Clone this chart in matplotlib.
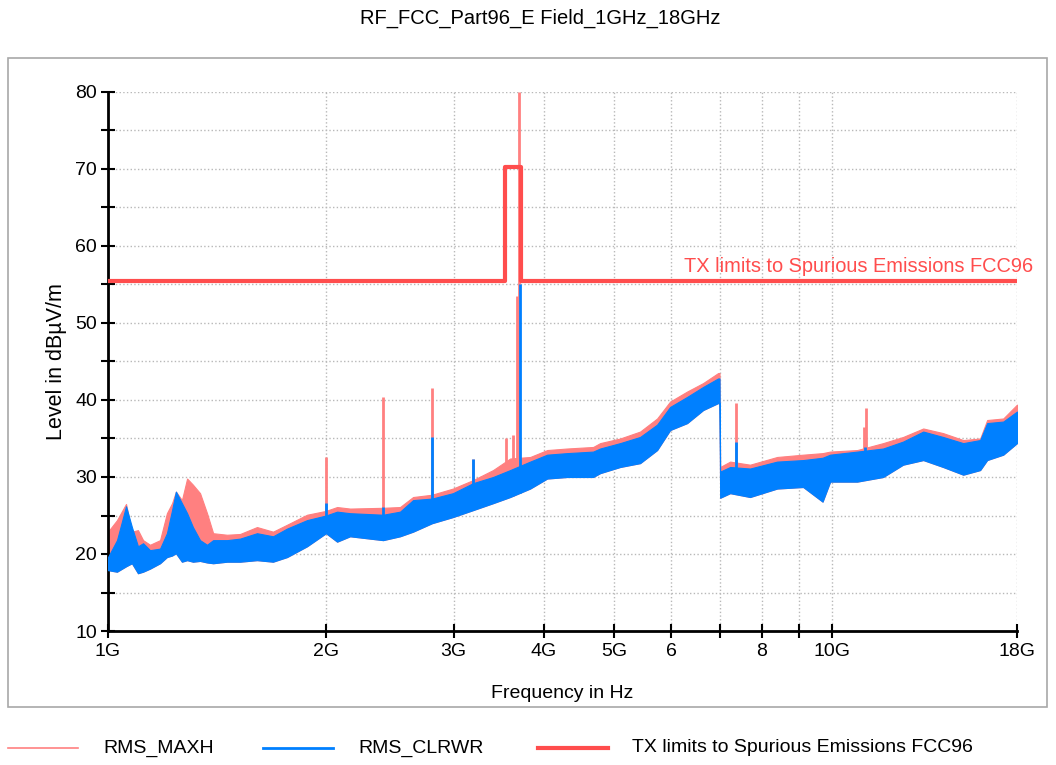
import numpy as np
import matplotlib
matplotlib.use("Agg")
import matplotlib.pyplot as plt
from matplotlib.lines import Line2D
from matplotlib.patches import Rectangle

plt.rcParams['font.family'] = ['Liberation Sans', 'DejaVu Sans']

# frequency grid of the envelope readings, in GHz
freq = [1.000, 1.029, 1.059, 1.079, 1.100, 1.118, 1.143, 1.180, 1.206, 1.226,
        1.241, 1.265, 1.286, 1.310, 1.340, 1.370, 1.397, 1.460, 1.522, 1.606,
        1.690, 1.767, 1.883, 2.000, 2.072, 2.159, 2.398, 2.531, 2.638, 2.802,
        2.995, 3.193, 3.402, 3.592, 3.828, 4.041, 4.305, 4.677, 4.782, 5.096,
        5.430, 5.732, 5.974, 6.306, 6.636, 6.959, 6.990, 7.004, 7.230, 7.703,
        8.395, 9.120, 9.700, 9.937, 10.83, 11.76, 12.53, 13.36, 14.23, 15.17,
        16.01, 16.37, 17.23, 18.00]

# RMS_MAXH upper envelope (dBuV/m)
maxh_top = [22.9, 24.4, 26.5, 22.9, 23.1, 21.8, 21.2, 21.8, 25.3, 26.6,
            28.1, 27.0, 29.8, 29.0, 27.9, 25.3, 22.7, 22.5, 22.6, 23.5,
            22.9, 23.8, 25.1, 25.6, 26.1, 25.9, 26.0, 26.1, 27.4, 27.7,
            28.5, 29.6, 30.9, 32.4, 32.6, 33.5, 33.7, 33.9, 34.4, 35.0,
            35.9, 37.6, 39.8, 41.1, 42.2, 43.5, 43.5, 31.3, 32.0, 31.6,
            32.6, 32.9, 33.1, 33.3, 33.5, 34.4, 35.2, 36.3, 35.7, 34.8,
            35.0, 37.4, 37.6, 39.4]

# RMS_CLRWR upper and lower envelopes (dBuV/m)
clrwr_top = [19.6, 21.8, 26.2, 23.5, 21.0, 21.4, 20.5, 20.7, 22.7, 25.7,
             28.1, 26.6, 25.3, 23.5, 21.8, 21.2, 21.8, 21.8, 22.0, 22.7,
             22.3, 23.3, 24.4, 25.0, 25.5, 25.3, 25.1, 25.5, 27.0, 27.2,
             27.9, 29.2, 30.0, 30.9, 32.0, 32.9, 33.1, 33.3, 33.7, 34.4,
             35.2, 36.8, 39.1, 40.4, 41.7, 42.8, 42.8, 30.7, 31.3, 31.1,
             32.0, 32.2, 32.5, 32.9, 33.3, 33.7, 34.6, 35.9, 35.2, 34.4,
             34.8, 37.0, 37.2, 38.5]
clrwr_low = [17.9, 17.7, 18.4, 18.8, 17.5, 17.7, 18.1, 18.8, 19.6, 19.8,
             20.1, 19.0, 19.2, 19.0, 19.1, 18.9, 18.8, 19.0, 19.0, 19.2,
             19.0, 19.6, 21.0, 22.7, 21.6, 22.3, 21.8, 22.3, 22.9, 24.0,
             24.8, 25.7, 26.6, 27.4, 28.5, 29.8, 30.0, 30.0, 30.5, 31.3,
             31.8, 33.5, 36.1, 37.0, 38.7, 39.6, 39.6, 27.3, 27.9, 27.4,
             28.5, 28.7, 26.8, 29.4, 29.4, 30.0, 31.6, 32.2, 31.3, 30.3,
             30.9, 32.2, 32.9, 34.4]

# narrow emissions on top of the noise floor
maxh_spike_f = [2.000, 2.398, 2.802, 3.193, 3.550, 3.620, 3.670, 3.700, 7.370, 11.08, 11.12]
maxh_spike_top = [32.6, 40.4, 41.5, 32.4, 35.0, 35.5, 53.5, 80.0, 39.6, 36.5, 38.9]
clrwr_spike_f = [2.000, 2.398, 2.802, 3.193, 3.710, 7.370, 11.10]
clrwr_spike_top = [26.6, 26.1, 35.2, 32.4, 55.0, 34.6, 33.9]

# limit line FCC96
limit_f = [1.0, 3.53, 3.53, 3.72, 3.72, 18.0]
limit_db = [55.5, 55.5, 70.3, 70.3, 55.5, 55.5]

xticks = [1, 2, 3, 4, 5, 6, 7, 8, 9, 10, 18]
xticklabels = ['1G', '2G', '3G', '4G', '5G', '6', '', '8', '', '10G', '18G']

pink = '#ff8080'
blue = '#0080ff'
red = '#ff4d4d'

fig = plt.figure(figsize=(10.56, 7.65), dpi=100)
fig.add_artist(Rectangle((8 / 1056, 1 - 707 / 765), 1039 / 1056, 649 / 765,
                         transform=fig.transFigure, fill=False,
                         edgecolor='#a8a8a8', lw=1.2))
ax = fig.add_axes([108 / 1056, 1 - 631 / 765, 909 / 1056, 539 / 765])

f = np.array(freq)
low = np.array(clrwr_low)
ax.fill_between(f, low, maxh_top, color=pink, lw=0.8, edgecolor=pink, zorder=2)
base = np.interp(maxh_spike_f, f, low)
ax.vlines(maxh_spike_f, base, maxh_spike_top, color=pink, lw=2, zorder=2)
ax.fill_between(f, low, clrwr_top, color=blue, lw=0.8, edgecolor=blue, zorder=3)
base = np.interp(clrwr_spike_f, f, low)
ax.vlines(clrwr_spike_f, base, clrwr_spike_top, color=blue, lw=2, zorder=3)
ax.plot(limit_f, limit_db, color=red, lw=3, zorder=4)
ax.text(18.95, 57.3, 'TX limits to Spurious Emissions FCC96', color=red,
        fontsize=14.4, ha='right', va='center', zorder=5, clip_on=False)

ax.set_xscale('log')
ax.set_xlim(1, 18)
ax.set_ylim(10, 80)
ax.set_xticks(xticks)
ax.set_xticklabels(xticklabels)
ax.xaxis.set_minor_locator(matplotlib.ticker.NullLocator())
ax.set_yticks(range(10, 81, 10))
ax.set_yticks(range(15, 80, 10), minor=True)
ax.tick_params(axis='both', which='both', direction='inout', length=10,
               width=1.5, labelsize=14, color='black')
ax.tick_params(axis='x', pad=4)
ax.tick_params(axis='y', pad=3)

for s in ['top', 'right']:
    ax.spines[s].set_visible(False)
for s in ['left', 'bottom']:
    ax.spines[s].set_linewidth(2)

for y in range(15, 81, 5):
    ax.axhline(y, color='#b8b8b8', ls=':', lw=1, zorder=1)
for x in xticks[1:]:
    ax.axvline(x, color='#b8b8b8', ls=':', lw=1, zorder=1)

ax.set_xlabel('Frequency in Hz', fontsize=14, labelpad=18)
ax.set_ylabel('Level in dB\u00b5V/m', fontsize=15.5, labelpad=6)
fig.text(0.512, 1 - 18 / 765, 'RF_FCC_Part96_E Field_1GHz_18GHz',
         fontsize=14.5, ha='center', va='center')

# legend drawn below the frame
legend_items = [('RMS_MAXH', pink, 1.2, 8, 103),
                ('RMS_CLRWR', blue, 2.0, 263, 358),
                ('TX limits to Spurious Emissions FCC96', red, 3.0, 538, 632)]
ly = 1 - 748 / 765
for label, c, w, x0, tx in legend_items:
    fig.add_artist(Line2D([x0 / 1056, (x0 + 70) / 1056], [ly, ly], color=c, lw=w,
                          transform=fig.transFigure))
    fig.text(tx / 1056, ly, label, fontsize=14, ha='left', va='center')

fig.savefig('out.png', dpi=100)
